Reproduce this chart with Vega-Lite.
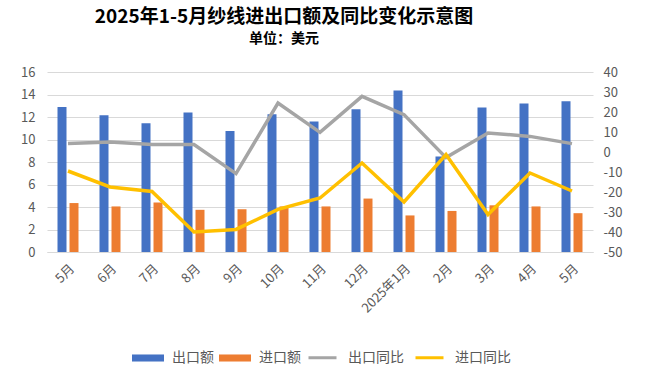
{
  "$schema": "https://vega.github.io/schema/vega-lite/v6.json",
  "width": 546,
  "height": 180,
  "autosize": {"type": "none"},
  "padding": {"left": 47, "top": 72, "right": 71, "bottom": 119},
  "background": "white",
  "config": {
    "font": "Noto Sans CJK SC",
    "view": {"stroke": null},
    "axis": {"titleFontSize": 12}
  },
  "title": {
    "text": "2025年1-5月纱线进出口额及同比变化示意图",
    "subtitle": "单位：美元",
    "anchor": "middle",
    "dx": -36,
    "offset": 20,
    "fontSize": 19,
    "fontWeight": "bold",
    "color": "#000000",
    "subtitleFontSize": 14,
    "subtitleFontWeight": "bold",
    "subtitleColor": "#000000",
    "subtitlePadding": 5
  },
  "data": {
    "values": [
      {"month": "2024年5月", "出口额": 12.9, "进口额": 4.35, "出口同比": 4.2, "进口同比": -9.5},
      {"month": "2024年6月", "出口额": 12.15, "进口额": 4.05, "出口同比": 5.0, "进口同比": -17.5},
      {"month": "2024年7月", "出口额": 11.45, "进口额": 4.4, "出口同比": 3.7, "进口同比": -19.7},
      {"month": "2024年8月", "出口额": 12.4, "进口额": 3.75, "出口同比": 3.7, "进口同比": -40},
      {"month": "2024年9月", "出口额": 10.75, "进口额": 3.8, "出口同比": -10.8, "进口同比": -38.7},
      {"month": "2024年10月", "出口额": 12.25, "进口额": 4.05, "出口同比": 24.5, "进口同比": -28.7},
      {"month": "2024年11月", "出口额": 11.6, "进口额": 4.05, "出口同比": 9.8, "进口同比": -23},
      {"month": "2024年12月", "出口额": 12.7, "进口额": 4.75, "出口同比": 27.8, "进口同比": -5.5},
      {"month": "2025年1月", "出口额": 14.35, "进口额": 3.25, "出口同比": 18.7, "进口同比": -25},
      {"month": "2025年2月", "出口额": 8.5, "进口额": 3.65, "出口同比": -2.8, "进口同比": -1.3},
      {"month": "2025年3月", "出口额": 12.85, "进口额": 4.15, "出口同比": 9.5, "进口同比": -31.3},
      {"month": "2025年4月", "出口额": 13.2, "进口额": 4.05, "出口同比": 7.8, "进口同比": -10.5},
      {"month": "2025年5月", "出口额": 13.4, "进口额": 3.45, "出口同比": 4.2, "进口同比": -19.5}
    ]
  },
  "encoding": {
    "x": {
      "field": "month",
      "type": "nominal",
      "sort": ["2024年5月","2024年6月","2024年7月","2024年8月","2024年9月","2024年10月","2024年11月","2024年12月","2025年1月","2025年2月","2025年3月","2025年4月","2025年5月"],
      "scale": {"paddingInner": 0.5, "paddingOuter": 0.25},
      "axis": {
        "title": null,
        "labelAngle": -45,
        "labelExpr": "datum.value == '2025年1月' ? datum.value : slice(datum.value, 5)",
        "labelFontSize": 13,
        "labelColor": "#595959",
        "labelPadding": 10,
        "ticks": false,
        "domainColor": "#D9D9D9",
        "domainWidth": 1
      }
    }
  },
  "layer": [
    {
      "transform": [{"fold": ["出口额", "进口额"], "as": ["series", "value"]}],
      "mark": {"type": "bar"},
      "encoding": {
        "xOffset": {"field": "series", "type": "nominal", "sort": ["出口额", "进口额"], "scale": {"paddingInner": 0.25}},
        "y": {
          "field": "value",
          "type": "quantitative",
          "scale": {"domain": [0, 16], "nice": false, "zero": true},
          "axis": {
            "title": null,
            "values": [0, 2, 4, 6, 8, 10, 12, 14, 16],
            "grid": true,
            "gridColor": "#D9D9D9",
            "domain": false,
            "ticks": false,
            "labelFontSize": 13,
            "labelColor": "#595959",
            "labelPadding": 12
          }
        },
        "fill": {
          "field": "series",
          "type": "nominal",
          "scale": {"domain": ["出口额", "进口额"], "range": ["#4472C4", "#ED7D31"]},
          "legend": {
            "title": null,
            "orient": "none",
            "legendX": 85,
            "legendY": 270,
            "direction": "horizontal",
            "symbolType": "M-1,-0.22L1,-0.22L1,0.22L-1,0.22Z",
            "symbolSize": 1024,
            "symbolStrokeWidth": 0,
            "labelFontSize": 14,
            "labelColor": "#595959",
            "labelOffset": 8,
            "labelLimit": 300,
            "columnPadding": 5
          }
        }
      }
    },
    {
      "transform": [{"fold": ["出口同比", "进口同比"], "as": ["series2", "yoy"]}],
      "mark": {"type": "line", "strokeWidth": 3.5},
      "encoding": {
        "y": {
          "field": "yoy",
          "type": "quantitative",
          "scale": {"domain": [-50, 40], "nice": false, "zero": false},
          "axis": {
            "orient": "right",
            "title": null,
            "values": [-50, -40, -30, -20, -10, 0, 10, 20, 30, 40],
            "labelExpr": "'' + datum.value",
            "grid": false,
            "domain": false,
            "ticks": false,
            "labelFontSize": 13,
            "labelColor": "#595959",
            "labelPadding": 10
          }
        },
        "stroke": {
          "field": "series2",
          "type": "nominal",
          "scale": {"domain": ["出口同比", "进口同比"], "range": ["#A5A5A5", "#FFC000"]},
          "legend": {
            "title": null,
            "orient": "none",
            "legendX": 260,
            "legendY": 270,
            "direction": "horizontal",
            "symbolType": "stroke",
            "symbolSize": 784,
            "symbolStrokeWidth": 3,
            "labelFontSize": 14,
            "labelColor": "#595959",
            "labelOffset": 10,
            "labelLimit": 300,
            "columnPadding": 5
          }
        }
      }
    }
  ],
  "resolve": {"scale": {"y": "independent", "fill": "independent", "stroke": "independent"}}
}
